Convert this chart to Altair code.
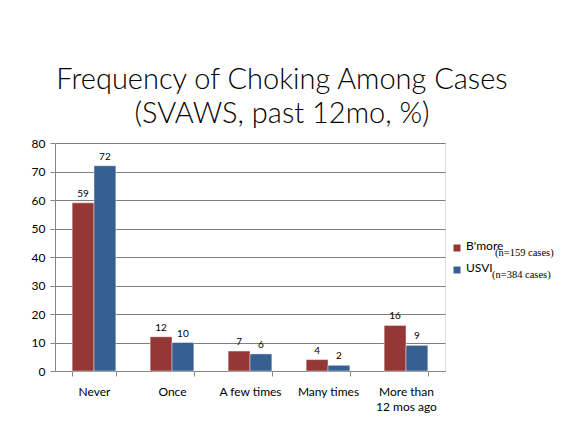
import altair as alt
import pandas as pd

categories = ["Never", "Once", "A few times", "Many times", "More than|12 mos ago"]
series = ["B'more", "USVI"]
bmore = [59, 12, 7, 4, 16]
usvi = [72, 10, 6, 2, 9]
subscripts = ["(n=159 cases)", "(n=384 cases)"]
colors = ["#953735", "#376092"]
y_ticks = [0, 10, 20, 30, 40, 50, 60, 70, 80]

rows = []
for c, a, b in zip(categories, bmore, usvi):
    rows.append({"cat": c, "series": series[0], "value": a})
    rows.append({"cat": c, "series": series[1], "value": b})
df = pd.DataFrame(rows)

W, H = 390, 228

x = alt.X("cat:N", sort=categories,
          scale=alt.Scale(paddingInner=0.44, paddingOuter=0.22),
          axis=alt.Axis(title=None, labelAngle=0, labelFontSize=12, labelFont="Lato",
                        labelColor="#000000", labelExpr="split(datum.label, '|')",
                        labelPadding=10, labelLineHeight=15, labelBaseline="top",
                        domainColor="#868686", tickColor="#868686", tickSize=5,
                        tickBand="extent", grid=False, gridOpacity=0))
y = alt.Y("value:Q", scale=alt.Scale(domain=[0, 80], nice=False),
          axis=alt.Axis(title=None, values=y_ticks, labelFontSize=12, labelFont="Lato",
                        labelColor="#000000", labelPadding=5, labelOverlap=False,
                        domainColor="#868686", tickColor="#868686", tickSize=5,
                        gridColor="#7f7f7f", gridWidth=1, gridOpacity=1))
xo = alt.XOffset("series:N", sort=series, scale=alt.Scale(paddingInner=0, paddingOuter=0))
color = alt.Color("series:N", sort=series, scale=alt.Scale(domain=series, range=colors), legend=None)

base = alt.Chart(df)
bars = base.mark_bar(stroke="#ffffff", strokeWidth=0.6, strokeOpacity=0.7).encode(
    x=x, y=y, xOffset=xo, color=color)
labels = base.mark_text(baseline="bottom", dy=-4, fontSize=10, font="Lato", color="#000000").encode(
    x=x, y=y, xOffset=xo, text="value:Q")

legend_layers = []
for i, (name, sub, col, off) in enumerate(zip(series, subscripts, colors, [40, 37])):
    ly = 105 + 22 * i
    d = pd.DataFrame({"name": [name], "sub": [sub]})
    legend_layers.append(alt.Chart(d).mark_square(size=49, opacity=1, color=col).encode(
        x=alt.value(W + 12), y=alt.value(ly)))
    legend_layers.append(alt.Chart(d).mark_text(
        align="left", baseline="middle", fontSize=12, font="Lato", color="#000000").encode(
        x=alt.value(W + 21), y=alt.value(ly - 2), text="name:N"))
    legend_layers.append(alt.Chart(d).mark_text(
        align="left", baseline="middle", fontSize=10.5, font="Liberation Serif", color="#000000").encode(
        x=alt.value(W + 10 + off), y=alt.value(ly + 5), text="sub:N"))

chart = alt.layer(bars, labels, *legend_layers).properties(
    width=W, height=H,
    autosize=alt.AutoSizeParams(type="none"),
    padding={"left": 47, "top": 135, "right": 110, "bottom": 45},
    title=alt.TitleParams(["Frequency of Choking Among Cases", "(SVAWS, past 12mo, %)"],
                          fontSize=29, font="Lato", fontWeight=300, color="#000000",
                          anchor="middle", dx=32, offset=8, lineHeight=34),
).configure_view(stroke="transparent", strokeWidth=0).configure_axisX(grid=False).configure(
    background="#ffffff")

chart.save("out.html", embed_options={"renderer": "svg", "actions": False})
